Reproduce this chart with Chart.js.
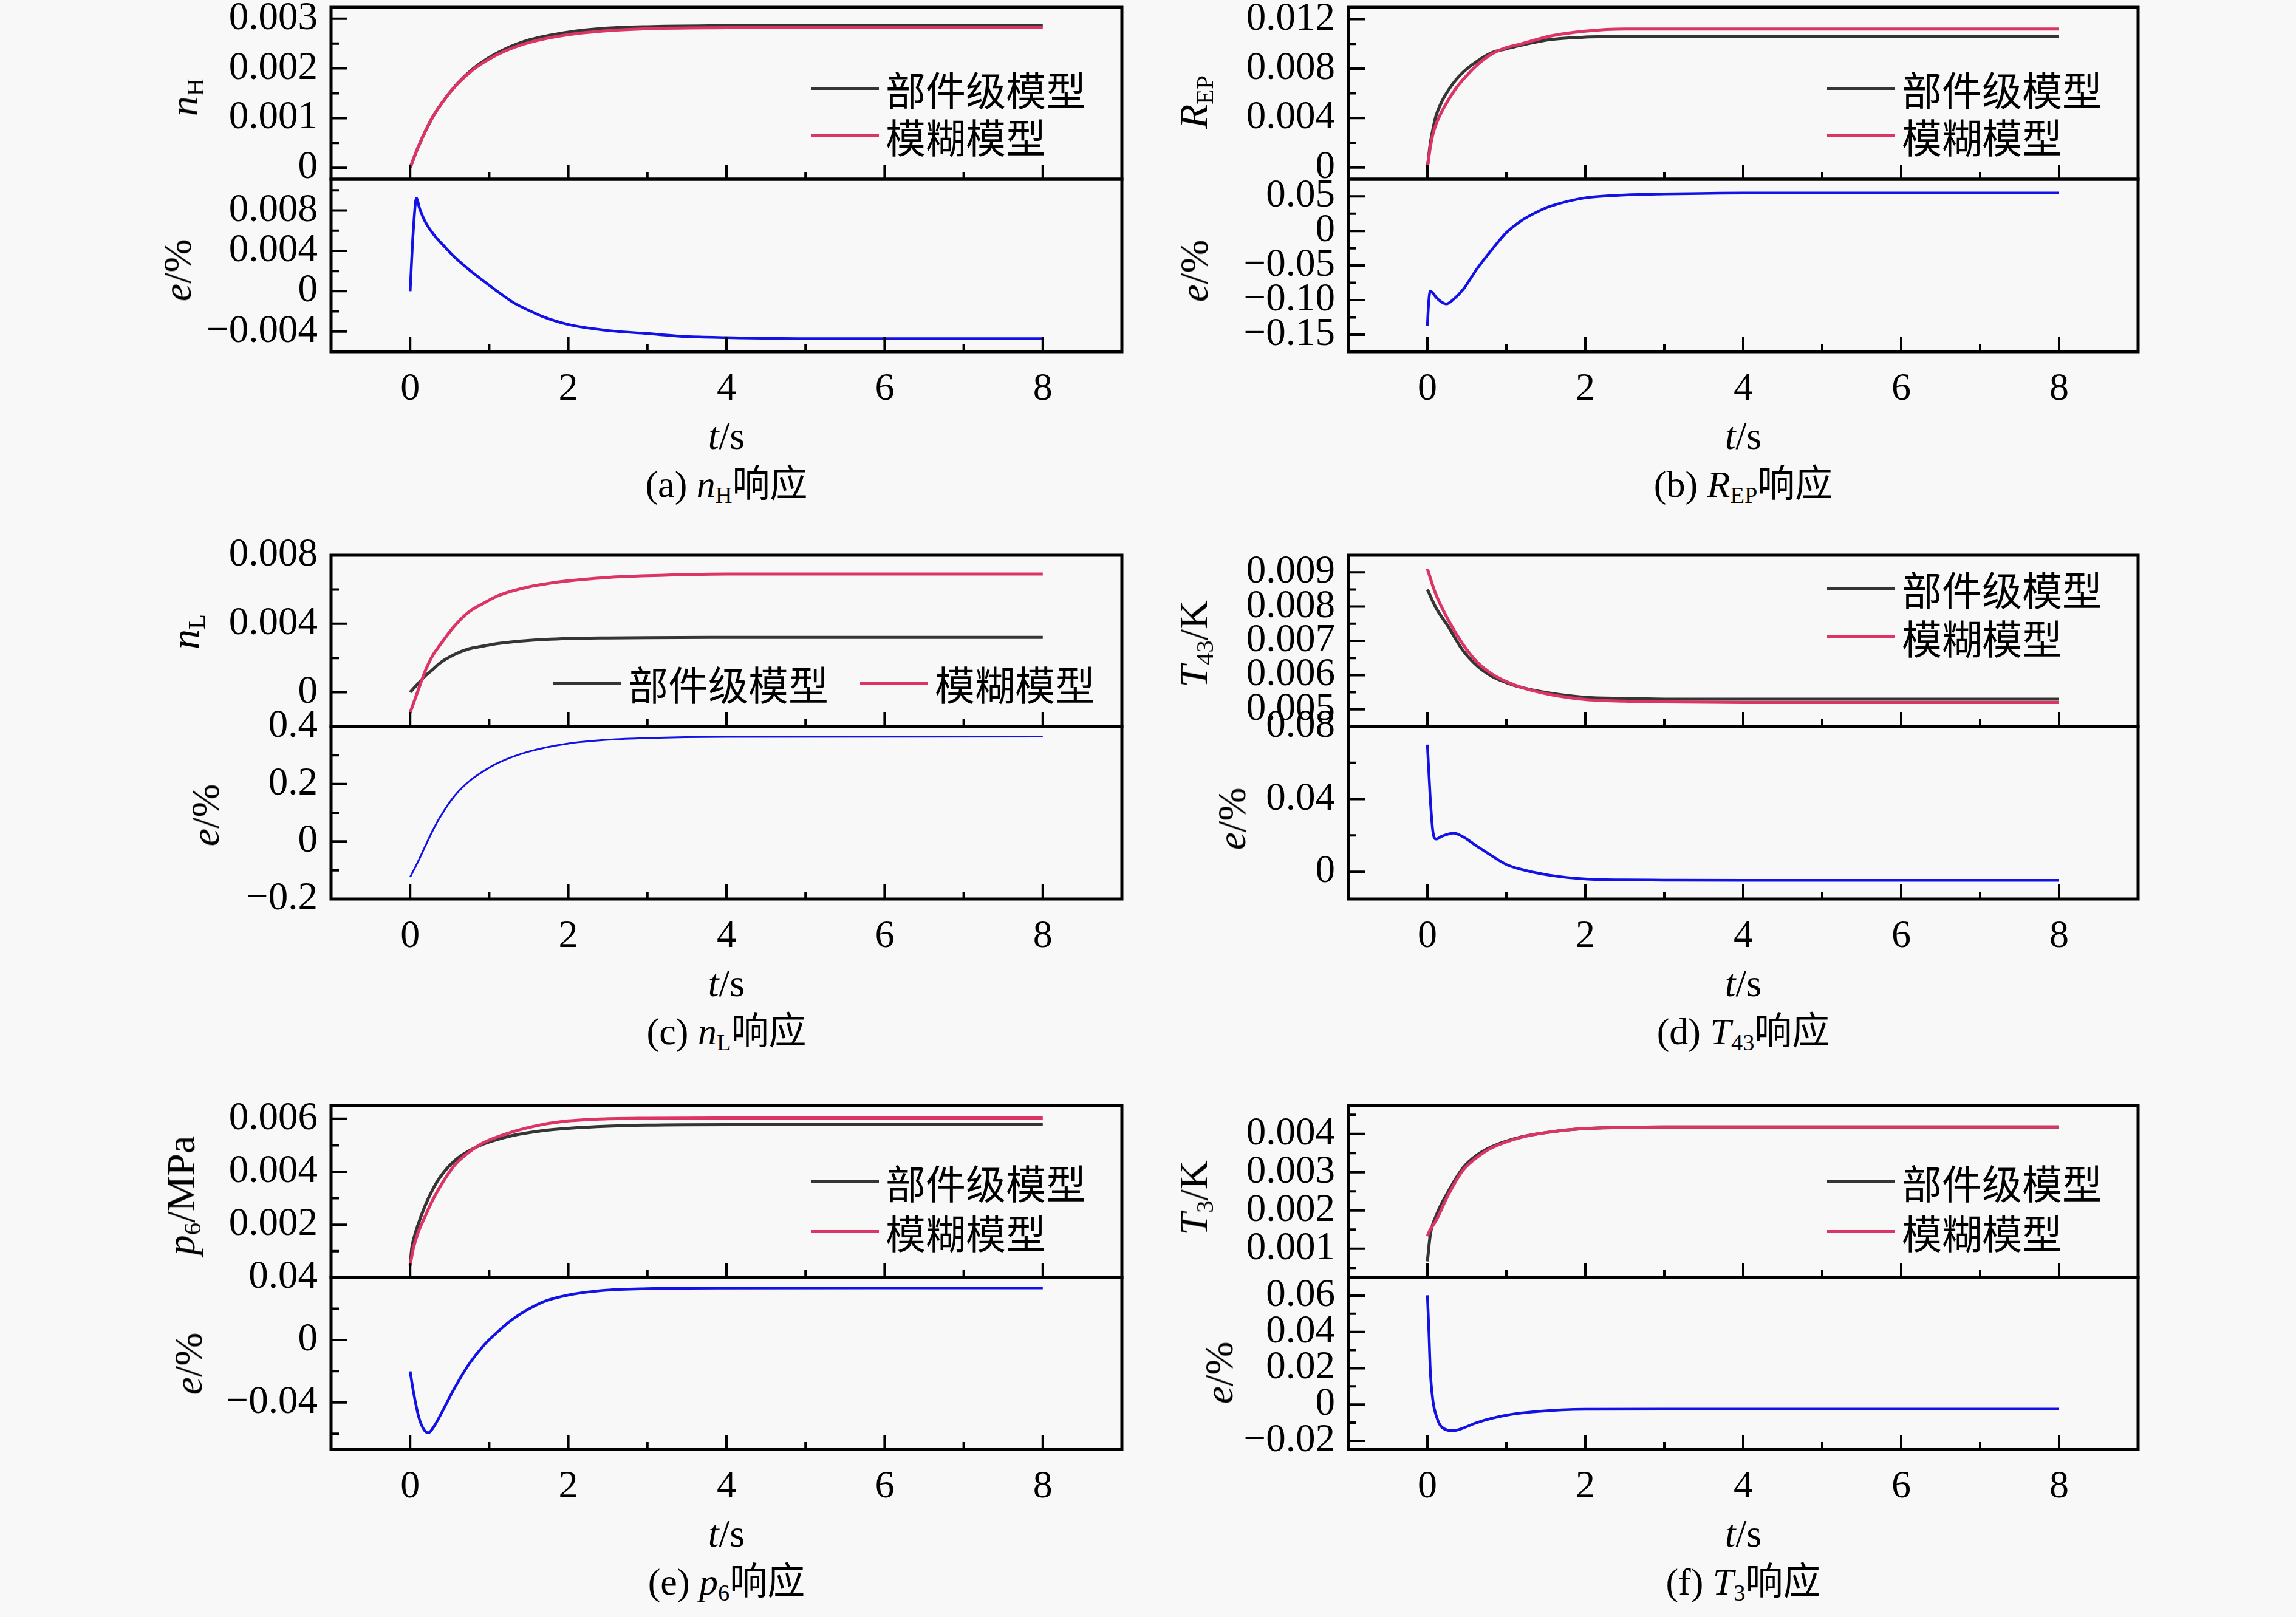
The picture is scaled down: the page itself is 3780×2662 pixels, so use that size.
<!DOCTYPE html>
<html>
<head>
<meta charset="utf-8">
<script src="https://cdn.jsdelivr.net/npm/chart.js@4.4.1/dist/chart.umd.min.js"></script>
<style>
  body { margin: 0; width: 3780px; height: 2662px; background: #f8f8f8; position: relative; overflow: hidden;
         font-family: "Liberation Serif", "Noto Sans CJK SC", serif; color: #000; }
  canvas { position: absolute; }
  .ytitle { position: absolute; white-space: nowrap; font-size: 66px; line-height: 1;
            transform: translate(-50%, -50%) rotate(-90deg); }
  .label { position: absolute; white-space: nowrap; line-height: 1; transform: translate(-50%, -50%); }
  .xtitle { font-size: 64px; }
  .caption { font-size: 62px; }
  sub { font-size: 0.62em; vertical-align: -0.25em; line-height: 0; font-style: normal; }
  .legend { position: absolute; white-space: nowrap; font-size: 66px; line-height: 1;
            font-family: "Noto Sans CJK SC", sans-serif; transform: translateY(-50%); display: flex; align-items: center; }
  .legend span.ln { display: inline-block; width: 112px; height: 5px; margin-right: 11px; }
  .probe { position: absolute; left: -9999px; top: 0; font-family: "Liberation Serif"; font-size: 64px; }
</style>
</head>
<body>
<div class="probe">0.123456789−</div>
<script>
// ---- data ----
// (a) n_H
const tA = [0, 0.1, 0.2, 0.3, 0.4, 0.5, 0.6, 0.8, 1.0, 1.2, 1.5, 2.0, 2.5, 3.0, 4.0, 5.0, 6.0, 8.0];
const nhComponent = [0, 0.00041, 0.00076, 0.00106, 0.00130, 0.00151, 0.00170, 0.00200, 0.00222, 0.00239, 0.00257, 0.00273, 0.00281, 0.00284, 0.00286, 0.00287, 0.00287, 0.00287];
const nhFuzzy = [0, 0.00041, 0.00076, 0.00106, 0.00130, 0.00151, 0.00169, 0.00198, 0.00219, 0.00235, 0.00252, 0.00268, 0.00276, 0.00280, 0.00282, 0.00283, 0.00283, 0.00283];
const tErrA = [0, 0.04, 0.08, 0.12, 0.19, 0.3, 0.45, 0.56, 0.75, 0.93, 1.1, 1.3, 1.5, 1.67, 2.0, 2.5, 3.0, 3.5, 4.0, 5.0, 6.0, 8.0];
const nhError = [0, 0.0060, 0.0092, 0.0082, 0.0069, 0.0056, 0.0043, 0.0034, 0.0021, 0.0010, 0.0000, -0.0011, -0.0019, -0.0025, -0.0033, -0.0039, -0.0042, -0.0045, -0.0046, -0.0047, -0.0047, -0.0047];

// (b) R_EP
const tB = [0, 0.036, 0.07, 0.11, 0.18, 0.26, 0.35, 0.45, 0.63, 0.82, 1.0, 1.19, 1.56, 2.0, 2.5, 3.0, 4.0, 5.0, 8.0];
const repComponent = [0, 0.0019, 0.0031, 0.0042, 0.0053, 0.0062, 0.0070, 0.0077, 0.0086, 0.0093, 0.0096, 0.0099, 0.01035, 0.01055, 0.0106, 0.0106, 0.0106, 0.0106, 0.0106];
const repFuzzy = [0, 0.0016, 0.0027, 0.0035, 0.0045, 0.0054, 0.0063, 0.0071, 0.0083, 0.0092, 0.0097, 0.0100, 0.01064, 0.01103, 0.0112, 0.0112, 0.0112, 0.0112, 0.0112];
const tErrB = [0, 0.015, 0.036, 0.07, 0.11, 0.17, 0.24, 0.33, 0.45, 0.63, 0.82, 1.0, 1.19, 1.38, 1.56, 2.0, 2.5, 3.0, 4.0, 8.0];
const repError = [-0.137, -0.105, -0.087, -0.090, -0.096, -0.102, -0.1055, -0.099, -0.085, -0.0545, -0.0265, -0.0024, 0.0149, 0.027, 0.0358, 0.048, 0.052, 0.0535, 0.055, 0.055];

// (c) n_L
const tC = [0, 0.1, 0.19, 0.28, 0.375, 0.56, 0.74, 0.93, 1.12, 1.49, 2.0, 2.5, 3.0, 4.0, 5.0, 8.0];
const nlComponent = [0, 0.0005, 0.00095, 0.0013, 0.0017, 0.0022, 0.00253, 0.0027, 0.00285, 0.00302, 0.00313, 0.00317, 0.00319, 0.0032, 0.0032, 0.0032];
const nlFuzzy = [-0.0012, 0.0001, 0.00123, 0.0021, 0.00274, 0.00386, 0.00468, 0.0052, 0.00565, 0.00614, 0.0065, 0.0067, 0.0068, 0.0069, 0.0069, 0.0069];
const tErrC = [0, 0.1, 0.19, 0.28, 0.375, 0.56, 0.74, 0.93, 1.12, 1.49, 2.0, 2.5, 3.0, 4.0, 8.0];
const nlError = [-0.124, -0.07, -0.017, 0.035, 0.083, 0.158, 0.208, 0.245, 0.2745, 0.312, 0.341, 0.354, 0.36, 0.364, 0.365];

// (d) T43
const tD = [0, 0.1, 0.26, 0.45, 0.63, 0.82, 1.0, 1.19, 1.56, 2.0, 2.5, 3.0, 4.0, 5.0, 8.0];
const t43Component = [0.0085, 0.0080, 0.00743, 0.00672, 0.00627, 0.00596, 0.00578, 0.00564, 0.00547, 0.00535, 0.00532, 0.0053, 0.0053, 0.0053, 0.0053];
const t43Fuzzy = [0.0091, 0.0084, 0.00763, 0.0069, 0.00638, 0.00603, 0.00581, 0.00564, 0.00543, 0.00529, 0.00524, 0.00522, 0.0052, 0.0052, 0.0052];
const tErrD = [0, 0.036, 0.07, 0.11, 0.18, 0.26, 0.33, 0.45, 0.63, 0.82, 1.0, 1.19, 1.56, 2.0, 2.5, 3.0, 4.0, 8.0];
const t43Error = [0.070, 0.0405, 0.022, 0.018, 0.0195, 0.0207, 0.0213, 0.0193, 0.014, 0.0086, 0.004, 0.0013, -0.002, -0.004, -0.0045, -0.0046, -0.0047, -0.0047];

// (e) p6
const tE = [0, 0.02, 0.04, 0.1, 0.19, 0.28, 0.375, 0.56, 0.74, 0.93, 1.3, 1.67, 2.0, 2.5, 3.0, 4.0, 5.0, 8.0];
const p6Component = [0.00046, 0.0011, 0.0014, 0.0020, 0.00272, 0.0033, 0.00378, 0.00441, 0.00478, 0.00505, 0.00537, 0.00555, 0.00564, 0.00572, 0.00576, 0.00578, 0.00578, 0.00578];
const p6Fuzzy = [0.00046, 0.0008, 0.0011, 0.0017, 0.00232, 0.0029, 0.00342, 0.00424, 0.00473, 0.0051, 0.00551, 0.00578, 0.00592, 0.006, 0.00602, 0.00603, 0.00603, 0.00603];
const tErrE = [0, 0.04, 0.11, 0.17, 0.23, 0.3, 0.375, 0.56, 0.74, 0.93, 1.12, 1.3, 1.67, 2.0, 2.48, 3.0, 4.0, 8.0];
const p6Error = [-0.0201, -0.0326, -0.0495, -0.057, -0.0594, -0.0555, -0.0488, -0.031, -0.0158, -0.0035, 0.0058, 0.0134, 0.0241, 0.0287, 0.0318, 0.0328, 0.0332, 0.0333];

// (f) T3
const tF = [0, 0.036, 0.11, 0.26, 0.45, 0.63, 0.82, 1.19, 1.56, 2.0, 2.5, 3.0, 4.0, 8.0];
const t3Component = [0.00067, 0.00136, 0.00186, 0.00248, 0.00311, 0.00345, 0.00367, 0.00392, 0.00405, 0.00414, 0.00417, 0.00418, 0.00418, 0.00418];
const t3Fuzzy = [0.00133, 0.0015, 0.00174, 0.00239, 0.00305, 0.00339, 0.00364, 0.00391, 0.00405, 0.00414, 0.00417, 0.00418, 0.00418, 0.00418];
const tErrF = [0, 0.02, 0.036, 0.07, 0.11, 0.18, 0.33, 0.45, 0.63, 1.0, 1.38, 2.0, 3.0, 4.0, 8.0];
const t3Error = [0.0602, 0.039, 0.0192, 0.002, -0.0059, -0.0124, -0.0144, -0.013, -0.0099, -0.0059, -0.0039, -0.0026, -0.0025, -0.0025, -0.0025];

const xTickLabels = ['0', '2', '4', '6', '8'];
const seriesNames = ['部件级模型', '模糊模型'];
const captions = ['(a) <i>n</i><sub>H</sub>响应', '(b) <i>R</i><sub>EP</sub>响应', '(c) <i>n</i><sub>L</sub>响应',
                  '(d) <i>T</i><sub>43</sub>响应', '(e) <i>p</i><sub>6</sub>响应', '(f) <i>T</i><sub>3</sub>响应'];
const yTitles = ['<i>n</i><sub>H</sub>', '<i>R</i><sub>EP</sub>', '<i>n</i><sub>L</sub>',
                 '<i>T</i><sub>43</sub>/K', '<i>p</i><sub>6</sub>/MPa', '<i>T</i><sub>3</sub>/K'];
const errTitle = '<i>e</i>/%';

// ---- layout and style ----
const FONT = '"Liberation Serif", "Times New Roman", serif';
const BLACK = '#353535', RED = '#dc3565', BLUE = '#1212e6';
Chart.defaults.font.family = FONT;
Chart.defaults.color = '#000';

const COLS = [{ left: 545, right: 1847 }, { left: 2220, right: 3520 }];
const ROWS = [{ top: 12, mid: 295, bottom: 579 }, { top: 914, mid: 1196, bottom: 1480 }, { top: 1820, mid: 2103, bottom: 2386 }];

function fmt(v, dec) {
  if (Math.abs(v) < 1e-12) return '0';
  return v.toFixed(dec).replace('-', '\u2212');
}

// every multiple of the minor step inside the axis range
function minorValues(yc) {
  const out = [];
  const k0 = Math.ceil(yc.min / yc.minor - 1e-6), k1 = Math.floor(yc.max / yc.minor + 1e-6);
  for (let k = k0; k <= k1; k++) out.push({ k: k, value: k * yc.minor });
  return out;
}

const frame = {
  id: 'frame',
  afterDraw(chart, args, opts) {
    const { ctx, chartArea: a, scales } = chart;
    const y = scales.y, x = scales.x;
    const yc = opts.yc;
    const ratio = Math.round(yc.major / yc.minor);
    ctx.save();
    ctx.strokeStyle = '#000';
    ctx.lineWidth = 4;
    ctx.beginPath();
    minorValues(yc).forEach(t => {
      const py = y.getPixelForValue(t.value);
      const len = (((t.k % ratio) + ratio) % ratio === 0) ? 27 : 13;
      ctx.moveTo(a.left, py); ctx.lineTo(a.left + len, py);
    });
    for (let k = 0; k <= 8; k++) {
      const px = x.getPixelForValue(k);
      const len = k % 2 === 0 ? 24 : 12;
      ctx.moveTo(px, a.bottom); ctx.lineTo(px, a.bottom - len);
    }
    ctx.stroke();
    ctx.lineWidth = 5;
    ctx.strokeRect(a.left, a.top, a.right - a.left, a.bottom - a.top);
    ctx.restore();
  }
};

function series(t, v, color, width, order) {
  return {
    data: t.map((x, i) => ({ x: x, y: v[i] })),
    borderColor: color, borderWidth: width, pointRadius: 0, fill: false,
    cubicInterpolationMode: 'monotone', order: order
  };
}

const YW = 300, PT = 45, PR = 20;
const items = [];

function chartConfig(item) {
  const { yc, showX } = item;
  const XH = showX ? 100 : 0, PB = showX ? 10 : 45;
  return {
    type: 'line',
    data: { datasets: item.datasets() },
    options: {
      responsive: false, maintainAspectRatio: false, animation: false, devicePixelRatio: 1,
      layout: { padding: { left: 0, top: PT, right: PR, bottom: PB } },
      plugins: { legend: { display: false }, tooltip: { enabled: false }, frame: { yc: yc } },
      scales: {
        x: {
          type: 'linear', min: -1, max: 9,
          grid: { display: false, drawTicks: false }, border: { display: false },
          ticks: {
            display: showX, stepSize: 1, autoSkip: false, maxRotation: 0, padding: 24,
            font: { family: FONT, size: 64 }, color: '#000',
            callback: v => (v >= 0 && v <= 8 && v % 2 === 0) ? xTickLabels[v / 2] : ''
          },
          afterFit: s => { s.height = XH; }
        },
        y: {
          type: 'linear', min: yc.min, max: yc.max,
          grid: { display: false, drawTicks: false }, border: { display: false },
          afterBuildTicks: s => { s.ticks = minorValues(yc).map(t => ({ value: t.value })); },
          ticks: {
            autoSkip: false, padding: 22, font: { family: FONT, size: 65 }, color: '#000',
            callback: v => {
              const k = Math.round(v / yc.major);
              return Math.abs(v - k * yc.major) < yc.major * 1e-6 ? fmt(k * yc.major, yc.dec) : '';
            }
          },
          afterFit: s => { s.width = YW; }
        }
      }
    },
    plugins: [frame]
  };
}

// (re)build a chart so that its plot area lands exactly on the wanted rectangle
function fit(item) {
  for (let pass = 0; pass < 3; pass++) {
    if (item.chart) item.chart.destroy();
    item.canvas.width = item.w;
    item.canvas.height = item.h;
    item.chart = new Chart(item.canvas, chartConfig(item));
    const ca = item.chart.chartArea;
    const dw = item.rect.w - (ca.right - ca.left);
    const dh = item.rect.h - (ca.bottom - ca.top);
    if (Math.abs(dw) < 0.5 && Math.abs(dh) < 0.5) break;
    item.w = Math.round(item.w + dw);
    item.h = Math.round(item.h + dh);
  }
  const ca = item.chart.chartArea;
  item.canvas.style.left = (item.rect.x - ca.left) + 'px';
  item.canvas.style.top = (item.rect.y - ca.top) + 'px';
}

function makeChart(rect, datasets, yc, showX) {
  const c = document.createElement('canvas');
  document.body.appendChild(c);
  const item = {
    canvas: c, rect: rect, datasets: datasets, yc: yc, showX: showX,
    w: YW + rect.w + PR, h: PT + rect.h + (showX ? 110 : 90)
  };
  items.push(item);
  fit(item);
}

function addHtml(cls, html, x, y) {
  const d = document.createElement('div');
  d.className = cls;
  d.innerHTML = html;
  d.style.left = x + 'px';
  d.style.top = y + 'px';
  document.body.appendChild(d);
  return d;
}

function addLegendItem(x, y, color, text) {
  return addHtml('legend', '<span class="ln" style="background:' + color + '"></span>' + text, x, y);
}

const panels = [
  { col: 0, row: 0, t: tA, comp: nhComponent, fuzzy: nhFuzzy, te: tErrA, err: nhError, errW: 4.5,
    yTop: { min: -0.00023, max: 0.00323, major: 0.001, minor: 0.0005, dec: 3 },
    yBot: { min: -0.0060, max: 0.0111, major: 0.004, minor: 0.002, dec: 3 },
    titleX: [303, 292], titleY: [160, 445], legend: { kind: 'v', dx: -512, y1: 133, y2: 211 } },
  { col: 1, row: 0, t: tB, comp: repComponent, fuzzy: repFuzzy, te: tErrB, err: repError, errW: 4.5,
    yTop: { min: -0.00095, max: 0.01296, major: 0.004, minor: 0.002, dec: 3 },
    yBot: { min: -0.1747, max: 0.0749, major: 0.05, minor: 0.025, dec: 2 },
    titleX: [1965, 1966], titleY: [168, 446], legend: { kind: 'v', dx: -512, y1: 133, y2: 211 } },
  { col: 0, row: 1, t: tC, comp: nlComponent, fuzzy: nlFuzzy, te: tErrC, err: nlError, errW: 3,
    yTop: { min: -0.002, max: 0.008, major: 0.004, minor: 0.002, dec: 3 },
    yBot: { min: -0.2, max: 0.4, major: 0.2, minor: 0.1, dec: 1 },
    titleX: [305, 338], titleY: [1040, 1342], legend: { kind: 'h', y: 210 } },
  { col: 1, row: 1, t: tD, comp: t43Component, fuzzy: t43Fuzzy, te: tErrD, err: t43Error, errW: 4.5,
    yTop: { min: 0.0045, max: 0.0095, major: 0.001, minor: 0.0005, dec: 3 },
    yBot: { min: -0.015, max: 0.08, major: 0.04, minor: 0.02, dec: 2 },
    titleX: [1965, 2028], titleY: [1060, 1348], legend: { kind: 'v', dx: -512, y1: 54, y2: 134 } },
  { col: 0, row: 2, t: tE, comp: p6Component, fuzzy: p6Fuzzy, te: tErrE, err: p6Error, errW: 4.5,
    yTop: { min: 0.00001, max: 0.0065, major: 0.002, minor: 0.001, dec: 3 },
    yBot: { min: -0.07, max: 0.04, major: 0.04, minor: 0.02, dec: 2 },
    titleX: [298, 310], titleY: [1968, 2245], legend: { kind: 'v', dx: -512, y1: 125, y2: 207 } },
  { col: 1, row: 2, t: tF, comp: t3Component, fuzzy: t3Fuzzy, te: tErrF, err: t3Error, errW: 4.5,
    yTop: { min: 0.00025, max: 0.00474, major: 0.001, minor: 0.0005, dec: 3 },
    yBot: { min: -0.0247, max: 0.07, major: 0.02, minor: 0.01, dec: 2 },
    titleX: [1965, 2007], titleY: [1972, 2260], legend: { kind: 'v', dx: -512, y1: 125, y2: 207 } }
];

panels.forEach((p, i) => {
  const c = COLS[p.col], r = ROWS[p.row];
  const w = c.right - c.left;
  makeChart({ x: c.left, y: r.top, w: w, h: r.mid - r.top },
    () => [series(p.t, p.comp, BLACK, 5, 1), series(p.t, p.fuzzy, RED, 5, 0)], p.yTop, false);
  makeChart({ x: c.left, y: r.mid, w: w, h: r.bottom - r.mid },
    () => [series(p.te, p.err, BLUE, p.errW, 0)], p.yBot, true);

  addHtml('ytitle', yTitles[i], p.titleX[0], p.titleY[0]);
  addHtml('ytitle', errTitle, p.titleX[1], p.titleY[1]);
  const cx = (c.left + c.right) / 2;
  addHtml('label xtitle', '<i>t</i>/s', cx, r.bottom + 139);
  addHtml('label caption', captions[i], cx, r.bottom + 218);

  const lg = p.legend;
  if (lg.kind === 'v') {
    addLegendItem(c.right + lg.dx, r.top + lg.y1, BLACK, seriesNames[0]);
    addLegendItem(c.right + lg.dx, r.top + lg.y2, RED, seriesNames[1]);
  } else {
    addLegendItem(911, r.top + lg.y, BLACK, seriesNames[0]);
    addLegendItem(1416, r.top + lg.y, RED, seriesNames[1]);
  }
});

// rebuild once the serif face is ready so the canvas labels use it
Promise.all([
  document.fonts.load('64px "Liberation Serif"'),
  document.fonts.load('italic 64px "Liberation Serif"')
]).then(() => { items.forEach(fit); }).catch(() => {});
</script>
</body>
</html>
